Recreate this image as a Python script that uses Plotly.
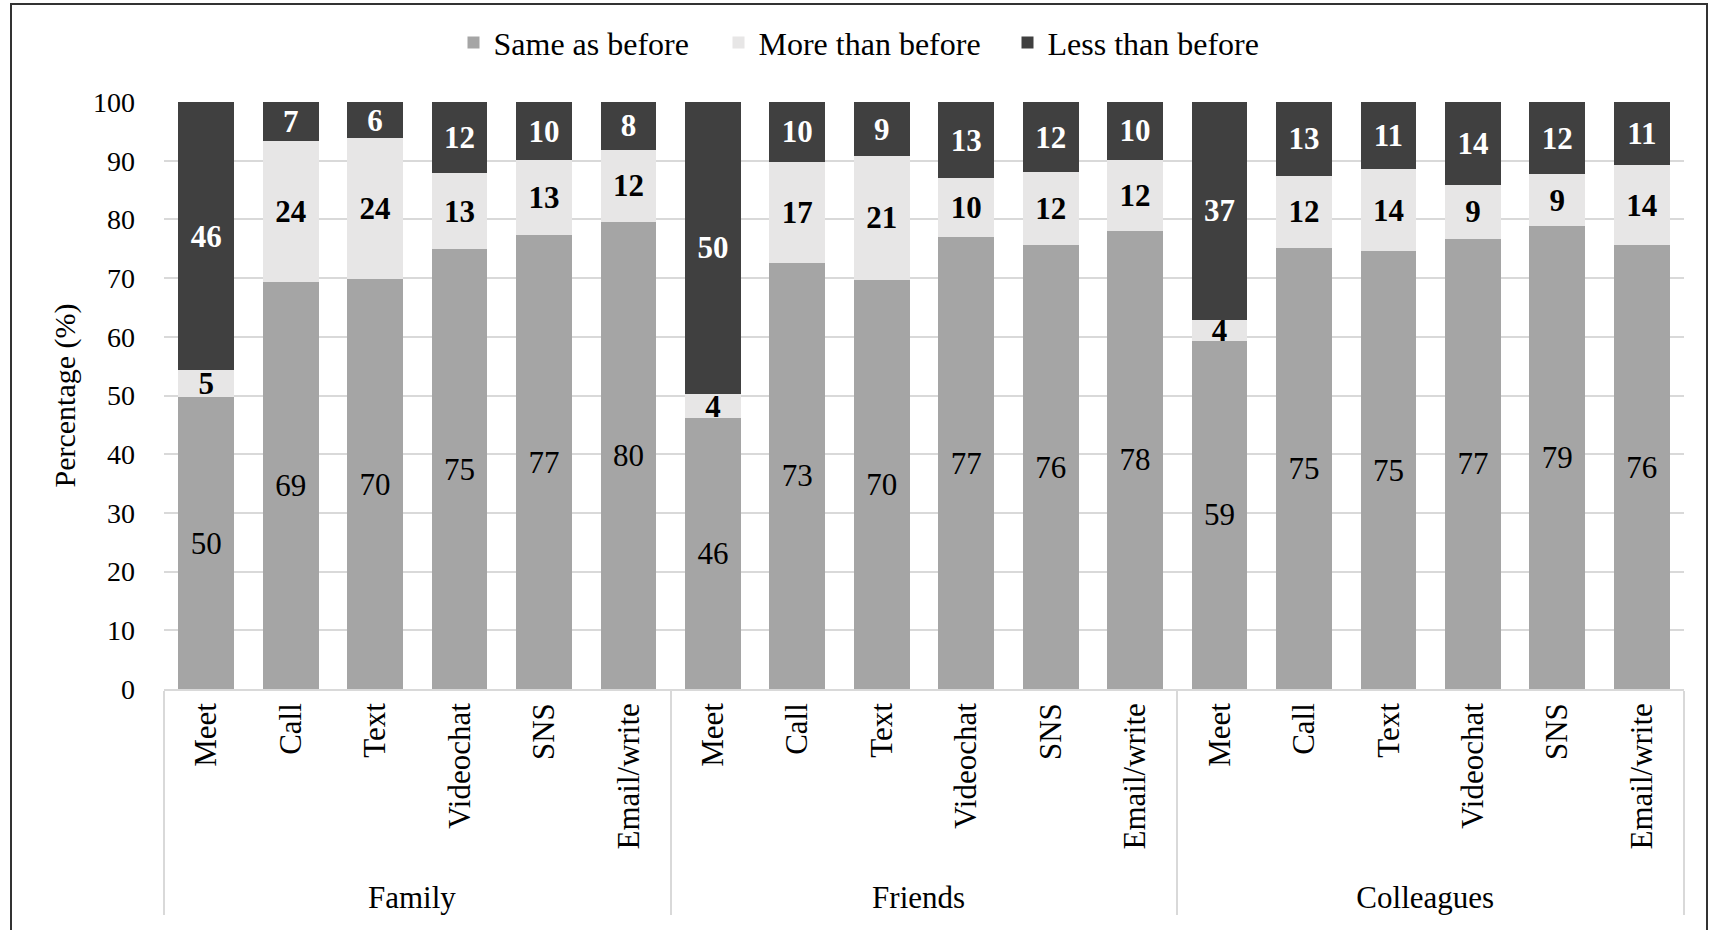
import plotly.graph_objects as go

groups = ["Family", "Friends", "Colleagues"]
modes = ["Meet", "Call", "Text", "Videochat", "SNS", "Email/write"]

same_as_before = [49.7, 69.3, 69.8, 74.9, 77.3, 79.6,
                  46.1, 72.6, 69.7, 77.0, 75.6, 78.1,
                  59.3, 75.2, 74.6, 76.7, 78.9, 75.6]
more_than_before = [4.6, 24.1, 24.0, 13.0, 12.8, 12.3,
                    4.2, 17.2, 21.1, 10.0, 12.4, 12.1,
                    3.6, 12.2, 14.0, 9.2, 8.8, 13.7]
less_than_before = [45.7, 6.6, 6.2, 12.1, 9.9, 8.1,
                    49.7, 10.2, 9.2, 13.0, 12.0, 9.8,
                    37.1, 12.6, 11.4, 14.1, 12.3, 10.7]

series_names = ["Same as before", "More than before", "Less than before"]
y_ticks = [0, 10, 20, 30, 40, 50, 60, 70, 80, 90, 100]

x_groups = [g for g in groups for _ in modes]
x_modes = [m for _ in groups for m in modes]
x = [x_groups, x_modes]

FONT = "Liberation Serif"
W, H = 1709, 930
L, R, T, B = 164, 25, 102, 241
PW, PH = W - L - R, H - T - B

fig = go.Figure()
legend_ids = ["legend", "legend2", "legend3"]
icon_left_px = [473, 738, 1027]
specs = [
    (same_as_before, series_names[0], "#a5a5a5", dict(color="black", family=FONT, size=31)),
    (more_than_before, series_names[1], "#e7e6e6", dict(color="black", family=FONT, size=31, weight="bold")),
    (less_than_before, series_names[2], "#404040", dict(color="white", family=FONT, size=31, weight="bold")),
]
for (vals, name, col, tf), lid in zip(specs, legend_ids):
    fig.add_trace(go.Bar(
        x=x, y=vals, name=name, legend=lid, showlegend=True,
        marker=dict(color=col, line=dict(width=0)),
        texttemplate="%{y:.0f}", textposition="inside", insidetextanchor="middle",
        textangle=0, insidetextfont=tf, constraintext="none", cliponaxis=False,
    ))

legend_common = dict(orientation="h", xanchor="left", y=1.101, yanchor="middle",
                     font=dict(family=FONT, size=32, color="black"),
                     bgcolor="rgba(0,0,0,0)", borderwidth=0)
legends = {}
for lid, px in zip(legend_ids, icon_left_px):
    legends[lid] = dict(legend_common, x=(px - 19.5 - L) / PW)

fig.update_layout(
    width=W, height=H, barmode="stack", bargap=0.34, showlegend=True,
    margin=dict(l=L, r=R, t=T, b=B, autoexpand=False),
    paper_bgcolor="white", plot_bgcolor="white",
    font=dict(family=FONT, size=28, color="black"),
    yaxis=dict(range=[0, 100.002], tickvals=y_ticks, showgrid=True, gridcolor="#d9d9d9", gridwidth=1.5,
               zeroline=False, showline=False, tickfont=dict(family=FONT, size=28, color="black"),
               ticklabelstandoff=28,
               title=dict(text="Percentage (%)", font=dict(family=FONT, size=30, color="black"), standoff=8)),
    xaxis=dict(type="multicategory", tickangle=-90, showline=True, linecolor="#d9d9d9", linewidth=1.5,
               showdividers=True, dividercolor="#d9d9d9", dividerwidth=1.5,
               tickfont=dict(family=FONT, size=31, color="black")),
    **legends,
)

fig.add_shape(type="rect", xref="paper", yref="paper",
              x0=(11 - L) / PW, x1=(1707 - L) / PW,
              y0=(T + PH - 945) / PH, y1=(T + PH - 4) / PH,
              line=dict(color="#333333", width=2), fillcolor="rgba(0,0,0,0)", layer="above")

fig.write_html("out.html")
